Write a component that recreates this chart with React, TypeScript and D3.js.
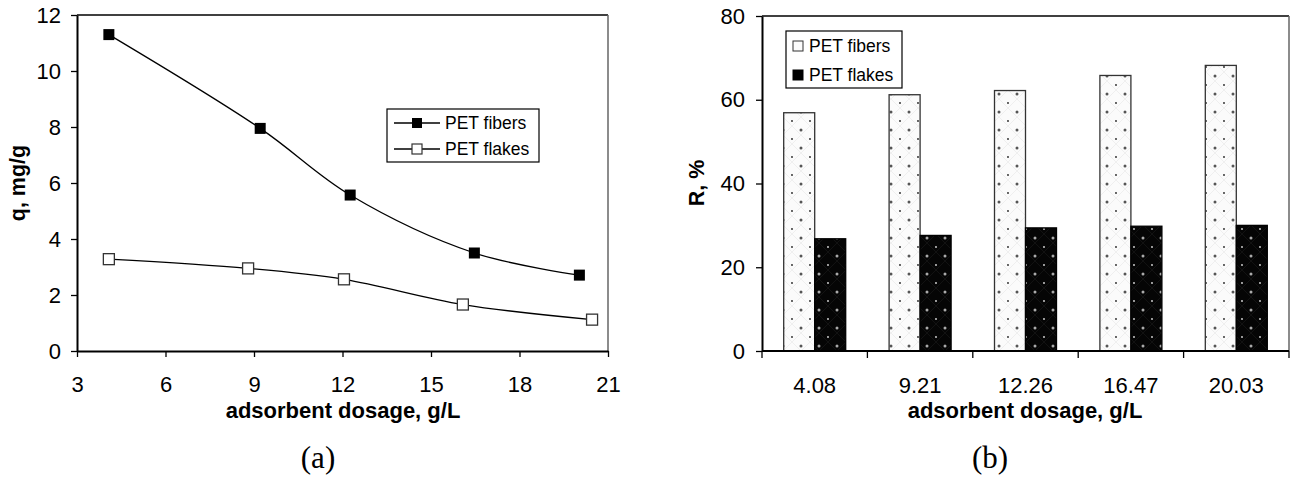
import { useEffect, useRef } from 'react'
import * as d3 from 'd3'

const W = 1293, H = 478
const SANS = '"Liberation Sans", Arial, sans-serif'
const SERIF = '"Liberation Serif", "Times New Roman", serif'

// (a) adsorption capacity
const dosageFibers = [4.08, 9.21, 12.26, 16.47, 20.03]
const qFibers = [11.3, 7.95, 5.57, 3.5, 2.71]
const dosageFlakes = [4.08, 8.8, 12.05, 16.08, 20.46]
const qFlakes = [3.28, 2.95, 2.56, 1.66, 1.12]
const xTicksA = [3, 6, 9, 12, 15, 18, 21]
const yTicksA = [0, 2, 4, 6, 8, 10, 12]

// (b) removal efficiency
const dosageLabels = ['4.08', '9.21', '12.26', '16.47', '20.03']
const rFibers = [56.9, 61.2, 62.2, 65.8, 68.2]
const rFlakes = [26.8, 27.6, 29.4, 29.8, 30.0]
const yTicksB = [0, 20, 40, 60, 80]
const seriesNames = ['PET fibers', 'PET flakes']

export default function App() {
  const ref = useRef<SVGSVGElement>(null)

  useEffect(() => {
    if (!ref.current) return
    const svg = d3.select(ref.current)
    svg.selectAll('*').remove()

    // bar fill patterns
    const defs = svg.append('defs')
    const mkPattern = (id: string, bg: string, big: string, small: string, hatch: string) => {
      const p = defs.append('pattern').attr('id', id)
        .attr('patternUnits', 'userSpaceOnUse').attr('width', 18).attr('height', 18)
      p.append('rect').attr('width', 18).attr('height', 18).attr('fill', bg)
      p.append('path').attr('d', 'M0,0L18,18M18,0L0,18').attr('stroke', hatch).attr('stroke-width', 0.8)
      p.append('circle').attr('cx', 9).attr('cy', 4).attr('r', 1.5).attr('fill', big)
      p.append('circle').attr('cx', 0).attr('cy', 13).attr('r', 0.9).attr('fill', small)
      p.append('circle').attr('cx', 18).attr('cy', 13).attr('r', 0.9).attr('fill', small)
    }
    mkPattern('dotsLight', '#fbfbfb', '#555', '#222', '#ececec')
    mkPattern('dotsDark', '#050505', '#aaa', '#ddd', '#151515')

    const styleAxis = (g: d3.Selection<SVGGElement, unknown, null, undefined>) => {
      g.select('.domain').attr('stroke', '#000').attr('stroke-width', 2)
      g.selectAll('.tick line').attr('stroke', '#000').attr('stroke-width', 1.3)
      g.selectAll('.tick text').attr('font-family', SANS).attr('font-size', 22).attr('fill', '#000')
    }

    // ---------- (a) ----------
    const xA = d3.scaleLinear().domain([3, 21]).range([77, 608])
    const yA = d3.scaleLinear().domain([0, 12]).range([351, 15])

    // frame (top + right)
    svg.append('line').attr('x1', 77).attr('x2', 608).attr('y1', 15).attr('y2', 15)
      .attr('stroke', '#000').attr('stroke-width', 1.5)
    svg.append('line').attr('x1', 608).attr('x2', 608).attr('y1', 15).attr('y2', 351)
      .attr('stroke', '#666').attr('stroke-width', 1.5)

    svg.append('g').attr('transform', 'translate(0,351)')
      .call(d3.axisBottom(xA).tickValues(xTicksA).tickSize(6).tickSizeOuter(0).tickPadding(19).tickFormat(d3.format('d')))
      .call(styleAxis)
    svg.append('g').attr('transform', 'translate(77,0)')
      .call(d3.axisLeft(yA).tickValues(yTicksA).tickSize(6).tickSizeOuter(0).tickPadding(10).tickFormat(d3.format('d')))
      .call(styleAxis)

    const line = d3.line<[number, number]>()
      .x(d => xA(d[0])).y(d => yA(d[1])).curve(d3.curveCatmullRom.alpha(0.5))
    const fib = dosageFibers.map((d, i) => [d, qFibers[i]] as [number, number])
    const fla = dosageFlakes.map((d, i) => [d, qFlakes[i]] as [number, number])
    for (const pts of [fib, fla]) {
      svg.append('path').attr('d', line(pts)).attr('fill', 'none')
        .attr('stroke', '#000').attr('stroke-width', 1.3)
    }
    const M = 11
    svg.append('g').selectAll('rect').data(fib).join('rect')
      .attr('x', d => xA(d[0]) - M / 2).attr('y', d => yA(d[1]) - M / 2)
      .attr('width', M).attr('height', M).attr('fill', '#000')
    svg.append('g').selectAll('rect').data(fla).join('rect')
      .attr('x', d => xA(d[0]) - M / 2).attr('y', d => yA(d[1]) - M / 2)
      .attr('width', M).attr('height', M).attr('fill', '#fff')
      .attr('stroke', '#333').attr('stroke-width', 1.3)

    // legend (a)
    const legA = svg.append('g')
    legA.append('rect').attr('x', 387).attr('y', 109).attr('width', 152).attr('height', 53)
      .attr('fill', '#fff').attr('stroke', '#000').attr('stroke-width', 1.2)
    seriesNames.forEach((name, i) => {
      const yy = 123 + i * 26
      legA.append('line').attr('x1', 394).attr('x2', 440).attr('y1', yy).attr('y2', yy)
        .attr('stroke', '#000').attr('stroke-width', 1.3)
      legA.append('rect').attr('x', 412).attr('y', yy - 5).attr('width', 10).attr('height', 10)
        .attr('fill', i === 0 ? '#000' : '#fff').attr('stroke', i === 0 ? 'none' : '#333').attr('stroke-width', 1.2)
      legA.append('text').attr('x', 445).attr('y', yy + 6).attr('font-family', SANS)
        .attr('font-size', 17.5).text(name)
    })

    // titles (a)
    svg.append('text').attr('transform', 'translate(25,183) rotate(-90)')
      .attr('text-anchor', 'middle').attr('font-family', SANS).attr('font-size', 21.5)
      .attr('font-weight', 700).text('q, mg/g')
    svg.append('text').attr('x', 343).attr('y', 418).attr('text-anchor', 'middle')
      .attr('font-family', SANS).attr('font-size', 22).attr('font-weight', 700)
      .text('adsorbent dosage, g/L')
    svg.append('text').attr('x', 318).attr('y', 468).attr('text-anchor', 'middle')
      .attr('font-family', SERIF).attr('font-size', 31).text('(a)')

    // ---------- (b) ----------
    const xB = d3.scaleBand().domain(dosageLabels).range([762, 1289])
    const xIn = d3.scaleBand().domain(seriesNames).range([0, xB.bandwidth()]).paddingOuter(0.7)
    const yB = d3.scaleLinear().domain([0, 80]).range([351, 16])

    svg.append('line').attr('x1', 762).attr('x2', 1289).attr('y1', 16).attr('y2', 16)
      .attr('stroke', '#000').attr('stroke-width', 1.5)
    svg.append('line').attr('x1', 1289).attr('x2', 1289).attr('y1', 16).attr('y2', 351)
      .attr('stroke', '#666').attr('stroke-width', 1.5)

    const bars = svg.append('g')
    const vals = [rFibers, rFlakes]
    vals.forEach((arr, si) => {
      bars.append('g').selectAll('rect').data(arr).join('rect')
        .attr('x', (_, i) => (xB(dosageLabels[i]) ?? 0) + (xIn(seriesNames[si]) ?? 0))
        .attr('y', d => yB(d)).attr('width', xIn.bandwidth()).attr('height', d => 351 - yB(d))
        .attr('fill', si === 0 ? 'url(#dotsLight)' : 'url(#dotsDark)')
        .attr('stroke', si === 0 ? '#333' : '#000').attr('stroke-width', 1.3)
    })

    // x axis (b): ticks on category edges, labels centred
    const gx = svg.append('g').attr('transform', 'translate(0,351)')
    gx.append('line').attr('x1', 762).attr('x2', 1289).attr('stroke', '#000').attr('stroke-width', 2)
    const edges = [...dosageLabels.map(c => xB(c) ?? 0), 1289]
    gx.selectAll('line.tk').data(edges).join('line').attr('class', 'tk')
      .attr('x1', d => d).attr('x2', d => d).attr('y1', 0).attr('y2', 7)
      .attr('stroke', '#000').attr('stroke-width', 1.3)
    gx.selectAll('text').data(dosageLabels).join('text')
      .attr('x', d => (xB(d) ?? 0) + xB.bandwidth() / 2).attr('y', 42)
      .attr('text-anchor', 'middle').attr('font-family', SANS).attr('font-size', 22).text(d => d)

    svg.append('g').attr('transform', 'translate(762,0)')
      .call(d3.axisLeft(yB).tickValues(yTicksB).tickSize(6).tickSizeOuter(0).tickPadding(11))
      .call(styleAxis)

    // legend (b)
    const legB = svg.append('g')
    legB.append('rect').attr('x', 786).attr('y', 31).attr('width', 116).attr('height', 57)
      .attr('fill', '#fff').attr('stroke', '#000').attr('stroke-width', 1.2)
    seriesNames.forEach((name, i) => {
      const yy = 46 + i * 29
      legB.append('rect').attr('x', 793).attr('y', yy - 5).attr('width', 10).attr('height', 10)
        .attr('fill', i === 0 ? '#fbfbfb' : '#000').attr('stroke', i === 0 ? '#333' : '#000').attr('stroke-width', 1)
      legB.append('text').attr('x', 809).attr('y', yy + 6).attr('font-family', SANS)
        .attr('font-size', 17.5).text(name)
    })

    svg.append('text').attr('transform', 'translate(704,183) rotate(-90)')
      .attr('text-anchor', 'middle').attr('font-family', SANS).attr('font-size', 21.5)
      .attr('font-weight', 700).text('R, %')
    svg.append('text').attr('x', 1025).attr('y', 418).attr('text-anchor', 'middle')
      .attr('font-family', SANS).attr('font-size', 22).attr('font-weight', 700)
      .text('adsorbent dosage, g/L')
    svg.append('text').attr('x', 990).attr('y', 468).attr('text-anchor', 'middle')
      .attr('font-family', SERIF).attr('font-size', 31).text('(b)')
  }, [])

  return (
    <svg ref={ref} width={W} height={H}
      style={{ position: 'absolute', left: 0, top: 0, background: '#fff' }} />
  )
}
